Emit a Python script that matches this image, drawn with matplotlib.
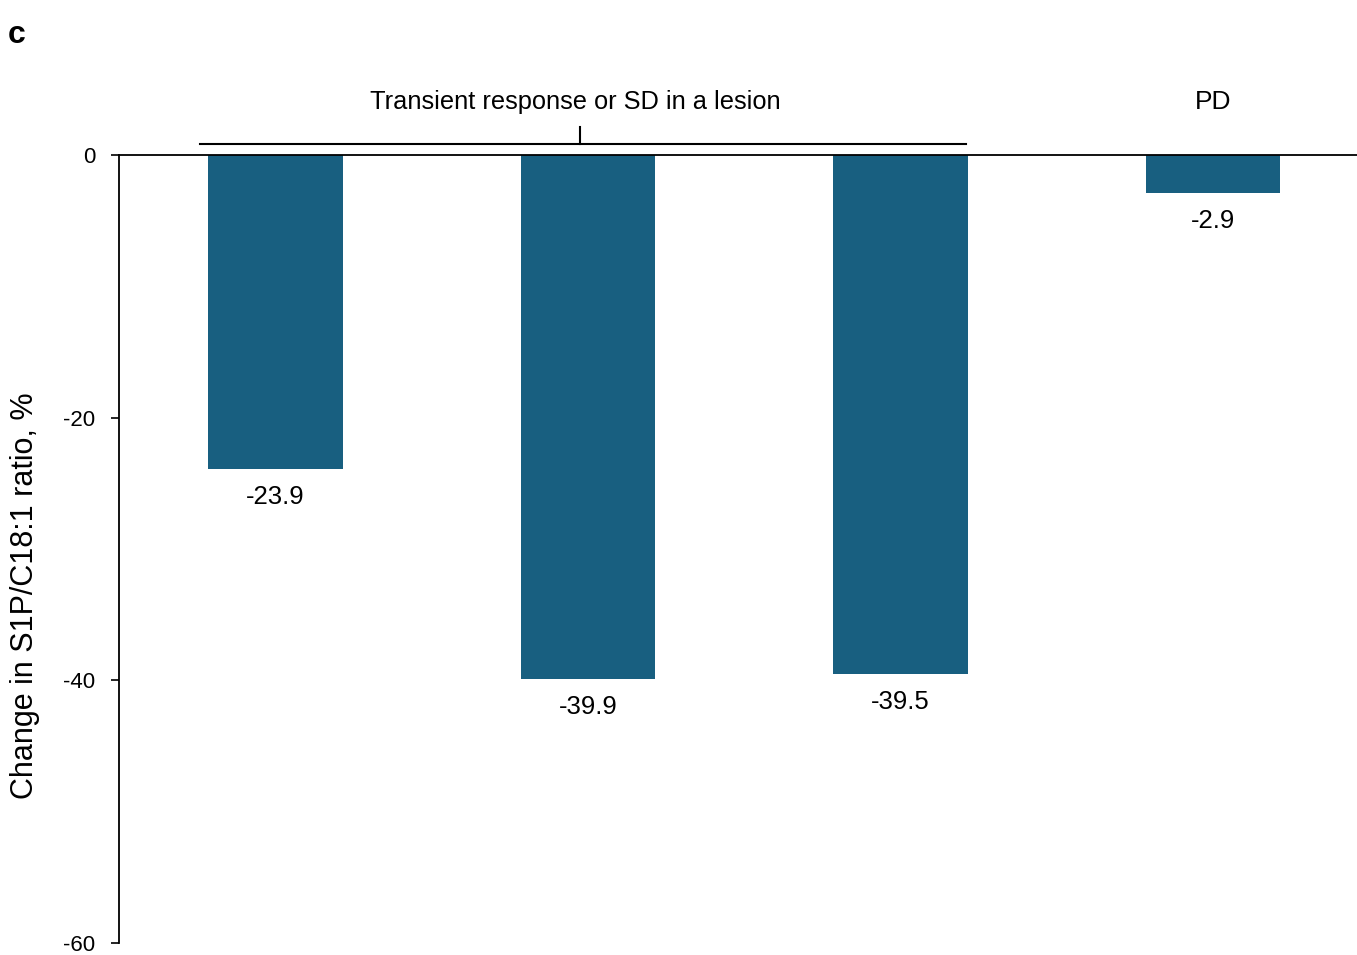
import numpy as np
import matplotlib.pyplot as plt

plt.rcParams['font.family'] = ['Liberation Sans', 'DejaVu Sans']

# data
positions = [0, 1, 2, 3]
changes = [-23.9, -39.9, -39.5, -2.9]
value_labels = ["-23.9", "-39.9", "-39.5", "-2.9"]
group_labels = ["Transient response or SD in a lesion", "PD"]
yticks = [0, -20, -40, -60]

bar_color = "#185f80"

fig = plt.figure(figsize=(13.57, 9.55), dpi=100)
ax = fig.add_axes([0.0877, 0.0125, 0.9123, 0.8252])

ax.bar(positions, changes, width=0.43, color=bar_color)

for x, v, lab in zip(positions, changes, value_labels):
    ax.annotate(lab, (x, v), xytext=(0, -28), textcoords="offset pixels",
                ha="center", va="center", fontsize=18.5)

ax.set_xlim(-0.5, 3.46)
ax.set_ylim(-60, 0)
ax.set_yticks(yticks)
ax.set_yticklabels([str(t) for t in yticks], fontsize=16)
ax.tick_params(axis="y", length=6, width=1.2, pad=11)
ax.set_xticks([])

ax.spines["right"].set_visible(False)
ax.spines["top"].set_visible(False)
ax.spines["bottom"].set_position(("data", 0))
for s in ("left", "bottom"):
    ax.spines[s].set_linewidth(1.3)

ax.set_ylabel("Change in S1P/C18:1 ratio, %", fontsize=22)
ax.yaxis.set_label_coords(-0.064, 0.441)

# bracket over the first group
ax.plot([-0.24, 2.21], [0.84, 0.84], color="black", lw=1.5, clip_on=False)
ax.plot([0.976, 0.976], [0.84, 2.13], color="black", lw=1.5, clip_on=False)
ax.text(0.96, 4.05, group_labels[0], ha="center", va="center", fontsize=18.3)
ax.text(3, 4.05, group_labels[1], ha="center", va="center", fontsize=19)

fig.text(0.006, 0.963, "c", fontsize=23, fontweight="bold", va="center")

fig.savefig("out.png", dpi=100)
